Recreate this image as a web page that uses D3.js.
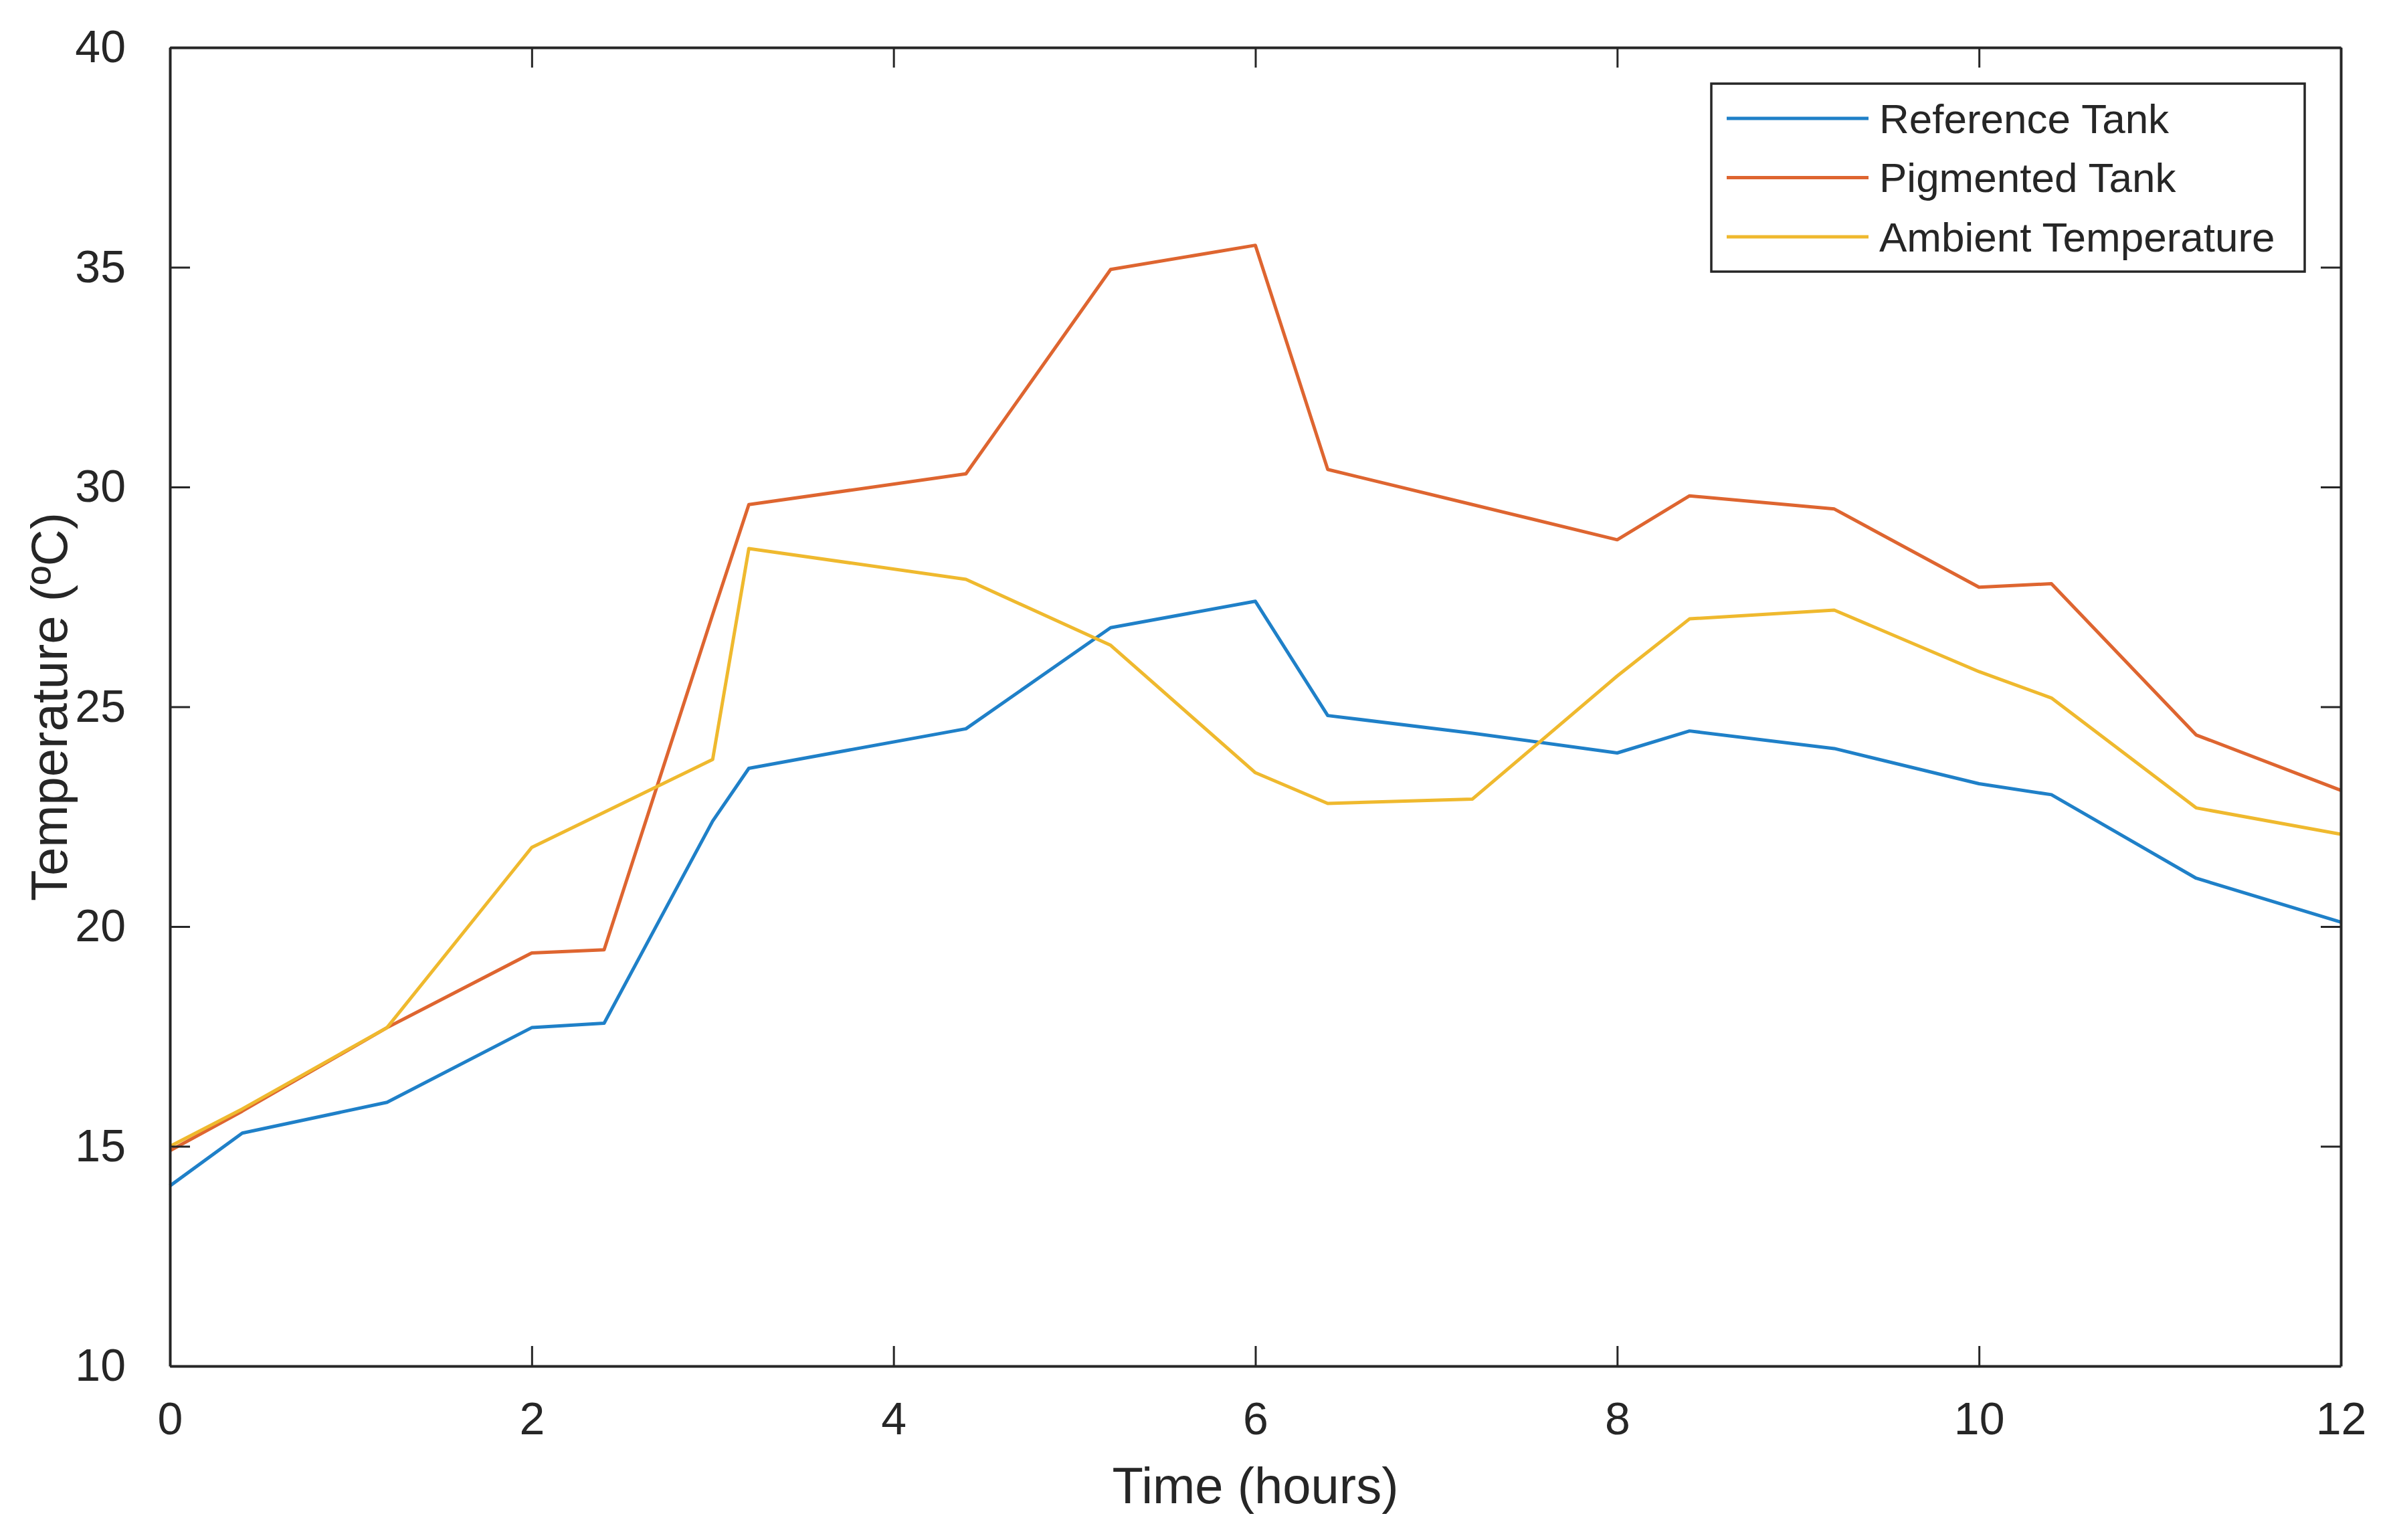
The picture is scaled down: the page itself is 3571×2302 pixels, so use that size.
<!DOCTYPE html>
<html>
<head>
<meta charset="utf-8">
<script src="https://cdn.jsdelivr.net/npm/d3@7"></script>
<style>
  html, body { margin: 0; padding: 0; background: #fff; }
  #graph { width: 3571px; height: 2302px; }
  text { font-family: 'Liberation Sans', Arial, sans-serif; fill: #262626; }
</style>
</head>
<body>
<div id="graph"></div>
<script>
// data
const hours = [0, 0.4, 1.2, 2, 2.4, 3, 3.2, 4.4, 5.2, 6, 6.4, 7.2, 8, 8.4, 9.2, 10, 10.4, 11.2, 12];
const referenceTank = [14.1, 15.3, 16.0, 17.7, 17.8, 22.4, 23.6, 24.5, 26.8, 27.4, 24.8, 24.4, 23.95, 24.45, 24.05, 23.25, 23.0, 21.1, 20.1];
const pigmentedTank = [14.9, 15.8, 17.7, 19.4, 19.47, 27.1, 29.6, 30.3, 34.95, 35.5, 30.4, 29.6, 28.8, 29.8, 29.5, 27.72, 27.8, 24.36, 23.1];
const ambientTemperature = [15.0, 15.85, 17.7, 21.8, 22.6, 23.8, 28.6, 27.9, 26.4, 23.5, 22.8, 22.9, 25.7, 27.0, 27.2, 25.8, 25.2, 22.7, 22.1];
const seriesNames = ['Reference Tank', 'Pigmented Tank', 'Ambient Temperature'];
const xTicks = [0, 2, 4, 6, 8, 10, 12];
const yTicks = [10, 15, 20, 25, 30, 35, 40];

const colors = {
  blue: '#1F80C8',
  orange: '#DE6530',
  yellow: '#EFB92E',
  axis: '#262626',
};

const margin = { left: 254, right: 72, top: 71, bottom: 260 };
const width = 3571;
const height = 2302;
const innerW = width - margin.left - margin.right;
const innerH = height - margin.top - margin.bottom;
const tickLen = 30;

const svg = d3.select('#graph')
  .append('svg')
  .attr('width', width)
  .attr('height', height);

const g = svg.append('g')
  .attr('transform', `translate(${margin.left},${margin.top})`);

const x = d3.scaleLinear().domain([0, 12]).range([0, innerW]);
const y = d3.scaleLinear().domain([10, 40]).range([innerH, 0]);

const series = [
  { name: seriesNames[0], values: referenceTank, color: colors.blue },
  { name: seriesNames[1], values: pigmentedTank, color: colors.orange },
  { name: seriesNames[2], values: ambientTemperature, color: colors.yellow },
];

// lines
const line = d3.line()
  .x((d) => x(d[0]))
  .y((d) => y(d[1]));

series.forEach((s) => {
  g.append('path')
    .datum(hours.map((h, i) => [h, s.values[i]]))
    .attr('fill', 'none')
    .attr('stroke', s.color)
    .attr('stroke-width', 5)
    .attr('stroke-linejoin', 'round')
    .attr('d', line);
});

// axes (matlab style box with inward ticks)
const styleAxis = (sel) => {
  sel.select('.domain').attr('stroke', colors.axis).attr('stroke-width', 4);
  sel.selectAll('.tick line').attr('stroke', colors.axis).attr('stroke-width', 3);
  sel.selectAll('.tick text')
    .style('font-family', "'Liberation Sans', Arial, sans-serif")
    .style('font-size', '68px')
    .attr('fill', colors.axis);
};

g.append('g')
  .attr('transform', `translate(0,${innerH})`)
  .call(d3.axisBottom(x).tickValues(xTicks).tickSizeInner(-tickLen).tickSizeOuter(0).tickPadding(tickLen + 24))
  .call(styleAxis);

g.append('g')
  .call(d3.axisTop(x).tickValues(xTicks).tickSizeInner(-tickLen).tickSizeOuter(0).tickFormat(''))
  .call(styleAxis);

g.append('g')
  .call(d3.axisLeft(y).tickValues(yTicks).tickSizeInner(-tickLen).tickSizeOuter(0).tickPadding(tickLen + 36))
  .call(styleAxis);

g.append('g')
  .attr('transform', `translate(${innerW},0)`)
  .call(d3.axisRight(y).tickValues(yTicks).tickSizeInner(-tickLen).tickSizeOuter(0).tickFormat(''))
  .call(styleAxis);

// axis labels
svg.append('text')
  .attr('x', margin.left + innerW / 2)
  .attr('y', 2247)
  .attr('text-anchor', 'middle')
  .style('font-size', '76px')
  .text('Time (hours)');

svg.append('text')
  .attr('transform', `translate(100,${margin.top + innerH / 2}) rotate(-90)`)
  .attr('text-anchor', 'middle')
  .style('font-size', '76px')
  .text('Temperature (ºC)');

// legend
const legend = svg.append('g').attr('transform', 'translate(2558,125)');
legend.append('rect')
  .attr('width', 887)
  .attr('height', 281)
  .attr('fill', '#fff')
  .attr('stroke', colors.axis)
  .attr('stroke-width', 3.5);

series.forEach((s, i) => {
  const row = legend.append('g').attr('transform', `translate(0,${52 + i * 88.5})`);
  row.append('line')
    .attr('x1', 23)
    .attr('x2', 235)
    .attr('stroke', s.color)
    .attr('stroke-width', 5);
  row.append('text')
    .attr('x', 251)
    .attr('dy', '0.35em')
    .style('font-size', '62px')
    .text(s.name);
});
</script>
</body>
</html>
